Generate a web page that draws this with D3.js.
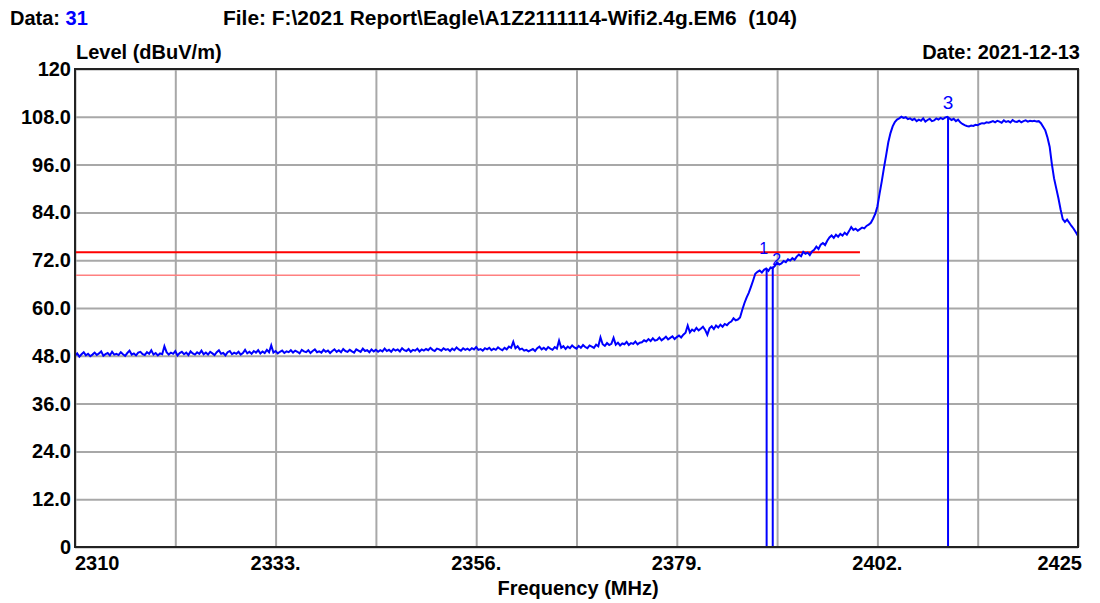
<!DOCTYPE html>
<html>
<head>
<meta charset="utf-8">
<script src="https://cdn.jsdelivr.net/npm/d3@7"></script>
<style>
  body { margin: 0; background: #fff; }
  text { font-family: "Liberation Sans", Arial, sans-serif; }
</style>
</head>
<body>
<div id="chart"></div>
<script>
// sweep settings (MHz)
const freqStart = 2310;
const freqStep = 0.25;

// measured level, dBuV/m, one value per sweep step (2310 .. 2425)
const level = [
  48.0,48.6,47.8,48.4,48.9,48.1,48.5,47.9,48.3,48.8,48.2,48.6,49.1,48.0,48.4,48.7,48.1,49.0,48.3,48.5,
  48.2,48.9,48.4,48.0,48.7,49.3,48.3,48.6,48.1,48.8,49.0,48.4,48.2,48.9,48.5,49.4,48.3,48.7,48.1,48.6,
  48.4,50.4,48.9,48.3,48.8,48.5,49.2,48.1,48.7,49.0,48.4,48.8,48.2,49.1,48.6,48.3,48.9,48.5,49.3,48.4,
  48.8,48.3,49.0,48.6,48.2,48.9,49.4,48.5,48.7,48.1,48.9,49.2,48.4,48.8,48.5,49.0,48.3,48.7,49.5,48.6,
  49.0,48.5,49.2,48.8,49.4,48.6,49.1,48.7,49.5,48.9,50.6,48.8,49.2,48.6,49.0,49.3,48.7,49.1,48.9,49.4,
  48.8,49.3,49.0,48.6,49.5,49.1,48.9,49.4,48.7,49.2,49.6,48.9,49.1,48.8,49.5,49.0,49.3,48.7,49.2,49.6,
  49.0,49.4,48.9,49.7,49.2,49.0,49.5,49.1,48.8,49.6,49.3,49.0,49.8,49.2,49.4,48.9,49.6,49.1,49.5,49.0,
  49.4,49.1,49.8,49.2,49.5,49.0,49.7,49.3,49.6,49.1,49.9,49.4,49.2,49.7,49.0,49.5,49.3,49.8,49.1,49.6,
  49.3,49.7,49.4,50.0,49.5,49.2,49.8,49.6,49.3,49.9,49.5,49.7,49.2,49.8,49.4,50.1,49.6,49.3,49.9,49.5,
  49.8,49.4,49.9,49.6,50.2,49.5,49.7,49.3,49.9,49.6,50.0,49.4,49.8,49.5,50.1,49.7,49.4,50.0,49.6,50.3,
  50.0,51.5,49.9,50.4,49.6,49.8,49.3,49.5,49.1,49.4,49.7,49.2,49.9,50.3,49.6,50.0,49.5,50.2,49.8,49.5,
  50.2,49.8,51.8,50.0,50.4,49.7,50.3,49.9,50.6,50.1,49.8,50.5,50.0,50.7,50.2,49.9,50.6,50.3,50.0,50.8,
  50.4,52.6,50.9,50.5,51.2,50.7,51.0,52.5,50.8,51.3,50.6,51.1,50.9,51.5,50.7,51.2,51.0,51.6,50.9,51.3,
  51.4,51.9,51.6,52.2,51.7,52.4,51.8,52.0,52.6,51.9,52.3,52.8,52.1,52.5,52.9,52.2,52.7,53.1,52.6,53.3,
  53.8,55.6,53.9,54.6,54.2,55.0,54.4,54.8,55.3,54.5,53.3,54.9,55.4,54.7,55.6,55.1,55.8,55.3,56.0,55.7,
  56.3,56.6,57.4,56.9,57.1,57.6,59.5,61.2,62.6,63.8,65.3,66.9,68.6,69.1,69.4,68.9,69.6,69.9,69.3,70.2,
  70.0,70.6,71.4,70.9,71.2,71.8,71.5,72.2,71.9,72.5,72.1,72.9,73.4,73.0,74.1,73.6,73.9,73.3,74.2,74.6,
  75.4,74.8,75.9,76.3,75.8,76.9,77.7,78.2,77.6,78.4,77.9,78.6,78.2,78.9,78.4,79.3,80.3,79.6,79.9,79.4,
  79.8,80.2,80.0,80.6,80.9,81.4,82.4,83.6,85.5,88.7,91.8,95.2,98.3,101.6,103.9,105.6,106.7,107.3,107.6,108.0,
  107.7,107.9,107.4,107.6,107.2,107.5,106.9,107.3,107.0,107.6,106.8,107.2,107.5,106.9,107.1,107.6,107.3,107.7,107.4,107.8,
  108.0,107.6,107.2,107.5,106.9,107.3,106.6,106.2,105.9,105.7,105.6,105.8,105.7,106.0,105.9,106.2,106.4,106.3,106.6,106.5,
  106.7,106.9,106.6,107.0,106.8,106.5,107.1,106.7,106.9,106.6,107.2,106.8,106.7,107.0,106.6,106.9,107.1,106.8,107.0,106.9,
  107.0,106.8,106.9,106.4,105.5,104.6,102.8,100.5,96.2,92.6,90.1,87.6,84.8,82.3,81.6,82.2,81.4,80.6,79.9,79.0,
  78.1
];

// axis
const freqDomain = [2310, 2425];
const levelDomain = [0, 120];
const freqGrid = d3.range(2310, 2425.1, 11.5);
const freqLabels = [2310, 2333, 2356, 2379, 2402, 2425];
const levelTicks = [0, 12, 24, 36, 48, 60, 72, 84, 96, 108, 120];

// limit lines (dBuV/m), drawn up to limitStop
const limitLevels = [74, 68.2];
const limitStop = 2400;

// markers
const markerNames = ["1", "2", "3"];
const markerFreqs = [2389.3, 2390.0, 2410.1];
const markerLevels = [69.9, 70.4, 108.0];

// header texts
const dataNo = "31";
const fileText = "File: F:\\2021 Report\\Eagle\\A1Z2111114-Wifi2.4g.EM6\u00a0\u00a0(104)";
const dateText = "Date: 2021-12-13";

let width = 1100, height = 603;
let margin = { top: 69, right: 22, bottom: 56, left: 75 };

let svg = d3.select('#chart')
  .append('svg')
  .attr('width', width)
  .attr('height', height);

svg.append('rect').attr('width', width).attr('height', height).attr('fill', '#fff');

let x = d3.scaleLinear().domain(freqDomain).range([margin.left, width - margin.right]);
let y = d3.scaleLinear().domain(levelDomain).range([height - margin.bottom, margin.top]);

let points = level.map((v, i) => ({ f: freqStart + i * freqStep, v: v }));

// ---- grid
svg.append('g')
  .attr('transform', 'translate(0,' + y(0) + ')')
  .call(d3.axisBottom(x).tickValues(freqGrid).tickSize(-(y(0) - y(120))).tickFormat(''))
  .call(g => g.select('.domain').remove())
  .call(g => g.selectAll('line').attr('stroke', '#a8a8a8').attr('stroke-width', 2));

svg.append('g')
  .attr('transform', 'translate(' + x(2310) + ',0)')
  .call(d3.axisLeft(y).tickValues(levelTicks).tickSize(-(x(2425) - x(2310))).tickFormat(''))
  .call(g => g.select('.domain').remove())
  .call(g => g.selectAll('line').attr('stroke', '#a8a8a8').attr('stroke-width', 2));

// ---- limit lines
svg.selectAll('line.limit')
  .data(limitLevels)
  .enter().append('line')
  .attr('class', 'limit')
  .attr('x1', x(2310))
  .attr('x2', x(limitStop))
  .attr('y1', d => y(d))
  .attr('y2', d => y(d))
  .attr('stroke', (d, i) => i == 0 ? '#ff0000' : '#ff8080')
  .attr('stroke-width', (d, i) => i == 0 ? 2 : 1.5);

// ---- trace
let line = d3.line()
  .x(d => x(d.f))
  .y(d => y(d.v));

svg.append('path')
  .datum(points)
  .attr('d', line)
  .attr('fill', 'none')
  .attr('stroke', '#0000ff')
  .attr('stroke-width', 2)
  .attr('stroke-linejoin', 'miter');

// ---- markers
let markers = markerNames.map((n, i) => ({ name: n, f: markerFreqs[i], v: markerLevels[i] }));

svg.selectAll('line.marker')
  .data(markers)
  .enter().append('line')
  .attr('class', 'marker')
  .attr('x1', d => x(d.f))
  .attr('x2', d => x(d.f))
  .attr('y1', d => y(d.v))
  .attr('y2', y(0))
  .attr('stroke', '#0000ff')
  .attr('stroke-width', 2);

// label nudges so 1 and 2 don't sit on each other
let labelDx = [-3, 4, 0];
let labelDy = [-15, -2, -8];
svg.selectAll('text.marker')
  .data(markers)
  .enter().append('text')
  .attr('class', 'marker')
  .attr('x', (d, i) => x(d.f) + labelDx[i])
  .attr('y', (d, i) => y(d.v) + labelDy[i])
  .attr('text-anchor', 'middle')
  .attr('fill', '#0000ff')
  .style('font-size', (d, i) => i == 2 ? '19px' : '16px')
  .text(d => d.name);

// ---- frame
svg.append('rect')
  .attr('x', x(2310))
  .attr('y', y(120))
  .attr('width', x(2425) - x(2310))
  .attr('height', y(0) - y(120))
  .attr('fill', 'none')
  .attr('stroke', '#222')
  .attr('stroke-width', 2);

// ---- tick labels
svg.selectAll('text.xlab')
  .data(freqLabels)
  .enter().append('text')
  .attr('class', 'xlab')
  .attr('x', (d, i) => i == freqLabels.length - 1 ? x(d) + 4 : x(d))
  .attr('y', 570)
  .attr('text-anchor', (d, i) => i == 0 ? 'start' : (i == freqLabels.length - 1 ? 'end' : 'middle'))
  .style('font-size', '20px')
  .style('font-weight', 'bold')
  .text((d, i) => (i == 0 || i == freqLabels.length - 1) ? d : d + '.');

svg.selectAll('text.ylab')
  .data(levelTicks)
  .enter().append('text')
  .attr('class', 'ylab')
  .attr('x', 71)
  .attr('y', d => y(d) + 7)
  .attr('text-anchor', 'end')
  .style('font-size', '20px')
  .style('font-weight', 'bold')
  .text(d => (d == 0 || d == 120) ? d : d.toFixed(1));

// ---- titles
let head = svg.append('text')
  .attr('x', 10)
  .attr('y', 25)
  .style('font-size', '20px')
  .style('font-weight', 'bold');
head.append('tspan').text('Data: ');
head.append('tspan').attr('fill', '#0000ff').text(dataNo);

svg.append('text')
  .attr('x', 223)
  .attr('y', 25)
  .attr('textLength', 574)
  .attr('lengthAdjust', 'spacingAndGlyphs')
  .style('font-size', '20px')
  .style('font-weight', 'bold')
  .text(fileText);

svg.append('text')
  .attr('x', 76)
  .attr('y', 59)
  .style('font-size', '20px')
  .style('font-weight', 'bold')
  .text('Level (dBuV/m)');

svg.append('text')
  .attr('x', 1080)
  .attr('y', 59)
  .attr('text-anchor', 'end')
  .style('font-size', '20px')
  .style('font-weight', 'bold')
  .text(dateText);

svg.append('text')
  .attr('x', 578)
  .attr('y', 595)
  .attr('text-anchor', 'middle')
  .style('font-size', '20px')
  .style('font-weight', 'bold')
  .text('Frequency (MHz)');
</script>
</body>
</html>
